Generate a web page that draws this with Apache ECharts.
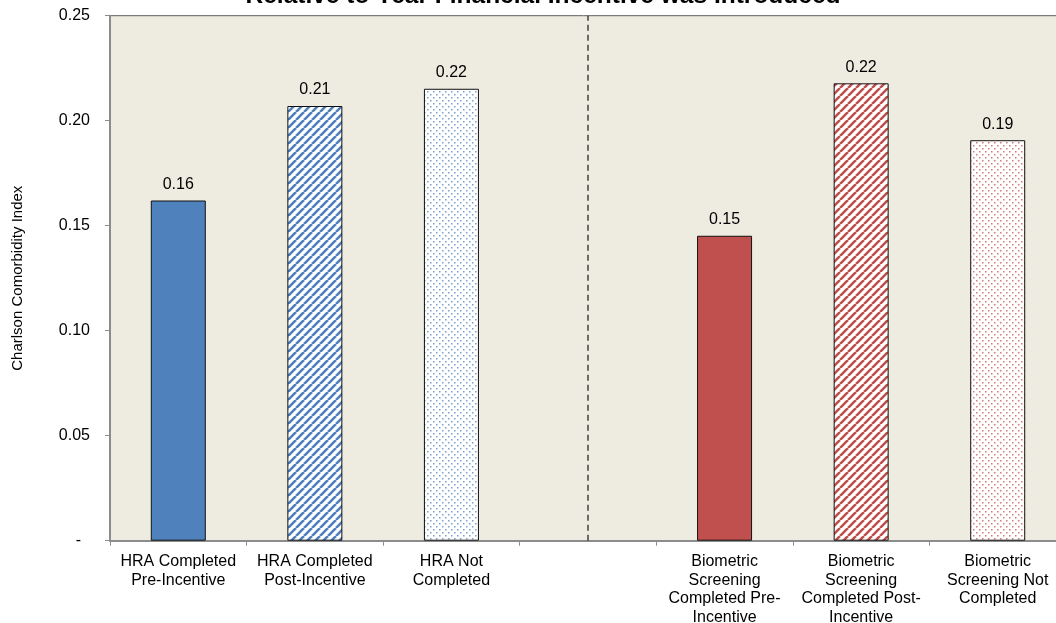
<!DOCTYPE html>
<html>
<head>
<meta charset="utf-8">
<script src="https://cdn.jsdelivr.net/npm/echarts@6/dist/echarts.min.js"></script>
<style>
  html, body { margin: 0; padding: 0; background: #ffffff; }
  #chart { width: 1056px; height: 623px; }
</style>
</head>
<body>
<div id="chart"></div>
<script>
// Categories (an empty slot separates the HRA group from the biometric group)
const categories = [
  'HRA Completed\nPre-Incentive',
  'HRA Completed\nPost-Incentive',
  'HRA Not\nCompleted',
  '',
  'Biometric\nScreening\nCompleted Pre-\nIncentive',
  'Biometric\nScreening\nCompleted Post-\nIncentive',
  'Biometric\nScreening Not\nCompleted'
];
// Mean Charlson Comorbidity Index per group
const values = [0.162, 0.207, 0.2152, null, 0.1452, 0.2178, 0.1907];
// Fill style per bar: solid, diagonal stripes, dotted
const fillKinds = ['solid', 'stripes', 'dots', null, 'solid', 'stripes', 'dots'];
const fillColors = ['#4F81BD', '#4F81BD', '#4F81BD', null, '#C0504D', '#C0504D', '#C0504D'];
const yTickValues = [0, 0.05, 0.10, 0.15, 0.20, 0.25];

const titleText = 'Relative to Year Financial Incentive was Introduced';
const yAxisTitle = 'Charlson Comorbidity Index';

function stripePattern(color) {
  const s = 8;
  const c = document.createElement('canvas');
  c.width = s; c.height = s;
  const g = c.getContext('2d');
  g.fillStyle = '#ffffff';
  g.fillRect(0, 0, s, s);
  g.strokeStyle = color;
  g.lineWidth = 2.6;
  g.beginPath();
  for (let k = -1; k <= 1; k++) {
    g.moveTo(k * s, s);
    g.lineTo(k * s + s, 0);
  }
  g.stroke();
  return { image: c, repeat: 'repeat' };
}

function dotPattern(color) {
  const s = 6;
  const c = document.createElement('canvas');
  c.width = s; c.height = s;
  const g = c.getContext('2d');
  g.fillStyle = '#ffffff';
  g.fillRect(0, 0, s, s);
  g.fillStyle = color;
  g.globalAlpha = 0.75;
  g.fillRect(1, 1, 1.5, 1.5);
  g.fillRect(4, 4, 1.5, 1.5);
  return { image: c, repeat: 'repeat' };
}

function fillFor(i) {
  const kind = fillKinds[i], col = fillColors[i];
  if (kind === 'stripes') return stripePattern(col);
  if (kind === 'dots') return dotPattern(col);
  return col;
}

const barData = values.map((v, i) => v === null ? null : ({
  value: v,
  itemStyle: { color: fillFor(i), borderColor: '#111111', borderWidth: 1 }
}));

const chart = echarts.init(document.getElementById('chart'), null, { renderer: 'canvas' });
const FONT = 'Liberation Sans, Arial, sans-serif';

chart.setOption({
  animation: false,
  backgroundColor: '#ffffff',
  textStyle: { fontFamily: FONT },
  graphic: [{
    type: 'text',
    x: 543, y: -16,
    style: {
      text: titleText,
      textAlign: 'center',
      textVerticalAlign: 'top',
      font: 'bold 24.5px ' + FONT,
      fill: '#000000'
    }
  }],
  grid: {
    left: 110, right: -10, top: 15.7, bottom: 82.3,
    containLabel: false,
    outerBoundsMode: 'none',
    show: true,
    backgroundColor: '#EEECE1',
    borderColor: '#5e5e5e',
    borderWidth: 1
  },
  xAxis: {
    type: 'category',
    data: categories,
    axisLine: { show: true, lineStyle: { color: '#8c8c8c', width: 2 } },
    axisTick: { show: true, alignWithLabel: false, length: 5, lineStyle: { color: '#8c8c8c', width: 1 } },
    axisLabel: {
      interval: 0,
      margin: 12,
      color: '#000000',
      fontSize: 16,
      lineHeight: 18.4,
      fontFamily: FONT,
      align: 'center',
      verticalAlign: 'top'
    },
    splitLine: { show: false }
  },
  yAxis: {
    type: 'value',
    min: 0, max: 0.25, interval: 0.05,
    name: yAxisTitle,
    nameLocation: 'middle',
    nameGap: 85,
    nameRotate: 90,
    nameTextStyle: { color: '#000000', fontSize: 15, fontFamily: FONT },
    axisLine: { show: true, lineStyle: { color: '#8c8c8c', width: 2 } },
    axisTick: { show: true, length: 5, lineStyle: { color: '#8c8c8c', width: 1 } },
    axisLabel: {
      margin: 20,
      color: '#000000',
      fontSize: 16,
      fontFamily: FONT,
      formatter: v => {
        const hit = yTickValues.find(t => Math.abs(t - v) < 1e-9);
        if (hit === 0) return '-  ';
        return (hit !== undefined ? hit : v).toFixed(2);
      }
    },
    splitLine: { show: false }
  },
  series: [{
    type: 'bar',
    data: barData,
    barWidth: 55,
    label: {
      show: true,
      position: 'top',
      distance: 8,
      color: '#000000',
      fontSize: 16,
      fontFamily: FONT,
      formatter: p => p.value == null ? '' : Number(p.value).toFixed(2)
    },
    markLine: {
      silent: true,
      symbol: ['none', 'none'],
      label: { show: false },
      lineStyle: { color: '#404040', type: [6, 4], width: 1.5 },
      data: [{ xAxis: 3 }]
    }
  }]
});
</script>
</body>
</html>
